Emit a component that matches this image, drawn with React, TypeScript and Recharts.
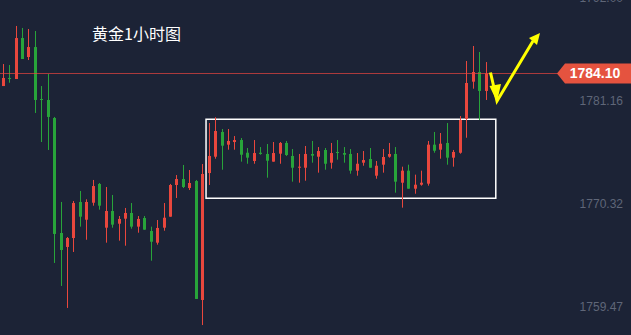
import React from 'react';
import { ComposedChart, Bar, XAxis, YAxis, ReferenceLine, ReferenceArea } from 'recharts';

// 黄金 1H candles (red = up, green = down)
const opens = [
  1782.77, 1783.62, 1783.51, 1787.83, 1785.83, 1786.88, 1781.4, 1781.3, 1779.4, 1767.28,
  1765.81, 1766.75, 1770.55, 1768.68, 1770.47, 1772.45, 1767.84, 1769.6, 1768.26, 1768.79,
  1769.39, 1767.95, 1768.86, 1767.49, 1766.26, 1767.84, 1769.0, 1772.34, 1772.97, 1772.02,
  1772.76, 1760.22, 1773.6, 1775.32, 1777.93, 1776.59, 1776.87, 1777.08, 1775.74, 1774.87,
  1775.74, 1775.61, 1774.8, 1775.64, 1776.77, 1775.4, 1774.16, 1774.16, 1775.61, 1775.32,
  1776.03, 1774.69, 1775.82, 1775.71, 1775.61, 1773.85, 1774.69, 1775.08, 1773.32, 1774.48,
  1775.32, 1775.61, 1772.58, 1773.85, 1771.95, 1772.37, 1772.48, 1776.59, 1776.06, 1776.77,
  1775.22, 1775.74, 1779.3, 1783.23, 1784.25, 1782.25,
];
const highs = [
  1785.09, 1784.99, 1789.1, 1788.89, 1788.78, 1788.57, 1782.77, 1784.04, 1779.51, 1770.55,
  1766.86, 1770.65, 1771.71, 1770.83, 1772.87, 1772.55, 1772.13, 1771.29, 1769.07, 1769.92,
  1770.44, 1769.07, 1769.07, 1767.95, 1768.65, 1770.44, 1772.45, 1773.39, 1774.45, 1773.92,
  1772.87, 1774.55, 1778.87, 1779.48, 1778.24, 1778.24, 1777.5, 1777.29, 1776.24, 1777.08,
  1776.34, 1776.66, 1776.87, 1776.87, 1776.98, 1776.13, 1775.61, 1776.45, 1776.98, 1776.34,
  1776.24, 1776.77, 1777.08, 1776.34, 1776.13, 1775.71, 1775.92, 1776.24, 1774.87, 1776.13,
  1776.77, 1776.34, 1774.27, 1774.48, 1773.43, 1773.85, 1776.98, 1777.93, 1777.82, 1778.87,
  1776.03, 1779.61, 1785.41, 1786.99, 1786.36, 1785.3,
];
const lows = [
  1782.77, 1783.12, 1783.51, 1785.62, 1785.51, 1779.93, 1776.87, 1776.03, 1764.12, 1761.7,
  1759.38, 1765.28, 1767.95, 1766.57, 1770.16, 1769.74, 1766.26, 1767.84, 1766.47, 1765.94,
  1767.73, 1767.31, 1767.63, 1764.36, 1766.05, 1767.52, 1769.0, 1770.97, 1772.02, 1771.81,
  1760.33, 1757.58, 1772.34, 1775.11, 1773.95, 1776.06, 1776.06, 1774.8, 1774.58, 1774.58,
  1775.53, 1773.11, 1774.8, 1774.58, 1775.4, 1772.69, 1772.58, 1772.79, 1774.69, 1773.64,
  1773.95, 1774.06, 1775.01, 1774.69, 1773.53, 1773.32, 1774.37, 1774.16, 1773.0, 1773.64,
  1775.22, 1771.53, 1769.95, 1771.95, 1771.42, 1772.27, 1772.27, 1775.74, 1775.11, 1774.48,
  1774.27, 1775.64, 1777.32, 1782.49, 1779.19, 1781.3,
];
const closes = [
  1783.62, 1783.51, 1787.83, 1785.62, 1786.88, 1781.3, 1781.3, 1779.51, 1767.18, 1765.49,
  1766.75, 1770.44, 1769.0, 1770.55, 1772.23, 1770.16, 1769.6, 1768.16, 1768.76, 1769.39,
  1767.95, 1768.76, 1767.63, 1766.36, 1767.81, 1768.89, 1772.34, 1772.97, 1772.13, 1772.55,
  1760.33, 1773.5, 1775.4, 1778.03, 1776.48, 1776.98, 1777.08, 1775.53, 1775.22, 1775.71,
  1775.61, 1774.9, 1775.71, 1776.77, 1775.5, 1774.16, 1774.27, 1775.61, 1775.43, 1775.92,
  1774.58, 1775.71, 1775.71, 1775.53, 1773.85, 1774.58, 1774.97, 1774.16, 1774.37, 1775.29,
  1775.61, 1772.69, 1773.85, 1771.95, 1772.37, 1772.58, 1776.59, 1775.95, 1776.69, 1775.22,
  1775.82, 1779.19, 1783.09, 1784.25, 1782.25, 1784.1,
];

const yTicks = [1759.47, 1770.32, 1781.16, 1792.0];
const lastPrice = 1784.1;
const boxFrom = 32;
const boxTo = 76;
const boxTop = 1779.26;
const boxBottom = 1770.94;
const title = '黄金1小时图';

const SLOTS = 98; // empty slots on the right leave room for the price scale
const UP = '#e9473d';
const DOWN = '#28a43a';
const BG = '#1c2336';
const PRICE_LINE = '#e8443f';

const data = Array.from({ length: SLOTS }, (_, i) =>
  i < opens.length
    ? { i, open: opens[i], high: highs[i], low: lows[i], close: closes[i], range: [lows[i], highs[i]] }
    : { i, range: null }
);

function Candle(props: any) {
  const { x, y, width, height, payload } = props;
  if (!payload || payload.open == null) return null;
  const { open, close, high, low } = payload;
  const top = Math.min(y, y + height);
  const bottom = Math.max(y, y + height);
  const toY = (p: number) => top + ((high - p) / (high - low)) * (bottom - top);
  const cx = Math.floor(x + width / 2);
  const color = close >= open ? UP : DOWN;
  const bTop = toY(Math.max(open, close));
  const bBot = toY(Math.min(open, close));
  return (
    <g>
      <line x1={cx + 0.5} x2={cx + 0.5} y1={top} y2={bottom} stroke={color} strokeWidth={1} />
      <rect x={cx - 1} y={bTop} width={3} height={Math.max(bBot - bTop, 1)} fill={color} />
    </g>
  );
}

function PriceLine(props: any) {
  const { x1, x2, y1, y2 } = props;
  return (
    <line
      x1={x1}
      x2={x2}
      y1={Math.round(y1) + 0.5}
      y2={Math.round(y2) + 0.5}
      stroke={PRICE_LINE}
      strokeOpacity={0.7}
      strokeWidth={1}
    />
  );
}

function PriceTag(props: any) {
  const { viewBox } = props;
  if (!viewBox) return null;
  const yy = viewBox.y;
  const right = viewBox.x + viewBox.width;
  const left = right - 74;
  return (
    <g>
      <path
        d={`M${left},${yy} L${left + 8},${yy - 10} L${right},${yy - 10} L${right},${yy + 10} L${left + 8},${yy + 10} Z`}
        fill="#e5533f"
      />
      <text
        x={right - 36}
        y={yy}
        dy={5}
        textAnchor="middle"
        fill="#ffffff"
        fontSize={14}
        fontWeight="bold"
        fontFamily="'Liberation Sans', Arial, sans-serif"
      >
        {lastPrice.toFixed(2)}
      </text>
    </g>
  );
}

function PriceTick(props: any) {
  const { y, payload } = props;
  return (
    <text
      x={623}
      y={y}
      dy={4}
      textAnchor="end"
      fill="#5f6678"
      fontSize={12}
      fontFamily="'Liberation Sans', Arial, sans-serif"
    >
      {Number(payload.value).toFixed(2)}
    </text>
  );
}

export default function App() {
  return (
    <div
      style={{
        position: 'absolute',
        left: 0,
        top: 0,
        width: 631,
        height: 335,
        overflow: 'hidden',
        background: BG,
      }}
    >
      <div style={{ position: 'absolute', left: 0, top: -30 }}>
        <ComposedChart width={631} height={389} data={data} margin={{ top: 0, right: 0, bottom: 0, left: 0 }}>
          <XAxis dataKey="i" type="category" hide />
          <YAxis
            orientation="right"
            mirror
            type="number"
            domain={[1754, 1795]}
            ticks={yTicks}
            allowDataOverflow
            axisLine={false}
            tickLine={false}
            tick={<PriceTick />}
          />
          <Bar dataKey="range" shape={<Candle />} isAnimationActive={false} />
          <ReferenceLine
            y={lastPrice}
            stroke={PRICE_LINE}
            shape={(p: any) => <PriceLine {...p} />}
            label={<PriceTag />}
          />
          <ReferenceArea
            x1={boxFrom}
            x2={boxTo}
            y1={boxBottom}
            y2={boxTop}
            fill="none"
            fillOpacity={0}
            stroke="#ffffff"
            strokeWidth={1.5}
          />
        </ComposedChart>
      </div>
      <div
        style={{
          position: 'absolute',
          left: 92,
          top: 25,
          color: '#ffffff',
          fontSize: 16,
          lineHeight: '16px',
          fontFamily: "'Noto Sans CJK SC', sans-serif",
        }}
      >
        {title}
      </div>
      <svg width={631} height={335} style={{ position: 'absolute', left: 0, top: 0, pointerEvents: 'none' }}>
        <polyline points="490.5,72.5 497,101 533,41" fill="none" stroke="#ffff00" strokeWidth={3} strokeLinejoin="miter" />
        <polygon points="540,33 529,38 537,45" fill="#ffff00" />
        <polygon points="497,102 489.5,86 501,84" fill="#ffff00" />
      </svg>
    </div>
  );
}
